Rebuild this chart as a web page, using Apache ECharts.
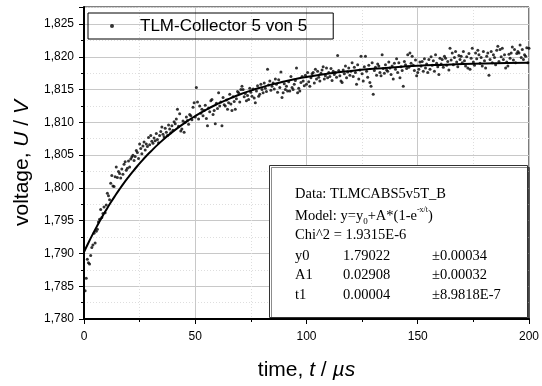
<!DOCTYPE html>
<html>
<head>
<meta charset="utf-8">
<script src="https://cdn.jsdelivr.net/npm/echarts@6/dist/echarts.min.js"></script>
<style>
  html, body { margin: 0; padding: 0; background: #fff; }
  #chart { width: 542px; height: 386px; }
</style>
</head>
<body>
<div id="chart"></div>
<script>
// Messpunkte: Zeitraster (µs) und Spannungen (V)
const t0 = 0.5;
const dt = 0.5;
const voltage = [
  1.7843, 1.7862, 1.7891, 1.7886, 1.7884, 1.7897, 1.7909, 1.7913, 1.7931, 1.7916,
  1.7934, 1.7937, 1.7948, 1.7952, 1.7967, 1.7955, 1.7961, 1.7971, 1.7962, 1.7974,
  1.7992, 1.7988, 1.7982, 1.8007, 1.8019, 1.8003, 1.8002, 1.8017, 1.8032, 1.8016,
  1.8025, 1.8022, 1.8015, 1.8029, 1.8021, 1.8036, 1.8040, 1.8027, 1.8030, 1.8041,
  1.8032, 1.8044, 1.8047, 1.8050, 1.8042, 1.8048, 1.8057, 1.8054, 1.8045, 1.8067,
  1.8060, 1.8052, 1.8064, 1.8070, 1.8058, 1.8067, 1.8063, 1.8077, 1.8066, 1.8080,
  1.8071, 1.8068, 1.8076, 1.8072, 1.8083, 1.8074, 1.8069, 1.8080, 1.8086, 1.8093,
  1.8082, 1.8078, 1.8091, 1.8085, 1.8080, 1.8096, 1.8090, 1.8084, 1.8095, 1.8088,
  1.8101, 1.8098, 1.8105, 1.8120, 1.8094, 1.8113, 1.8087, 1.8090, 1.8102, 1.8085,
  1.8100, 1.8108, 1.8103, 1.8097, 1.8112, 1.8110, 1.8104, 1.8123, 1.8130, 1.8108,
  1.8153, 1.8131, 1.8105, 1.8125, 1.8114, 1.8120, 1.8110, 1.8118, 1.8126, 1.8106,
  1.8095, 1.8122, 1.8116, 1.8133, 1.8135, 1.8112, 1.8118, 1.8098, 1.8129, 1.8121,
  1.8145, 1.8125, 1.8131, 1.8095, 1.8138, 1.8127, 1.8125, 1.8134, 1.8120, 1.8130,
  1.8143, 1.8128, 1.8118, 1.8139, 1.8132, 1.8120, 1.8136, 1.8147, 1.8145, 1.8131,
  1.8150, 1.8155, 1.8150, 1.8139, 1.8144, 1.8133, 1.8141, 1.8135, 1.8152, 1.8146,
  1.8140, 1.8151, 1.8137, 1.8130, 1.8148, 1.8156, 1.8140, 1.8143, 1.8158, 1.8150,
  1.8145, 1.8160, 1.8152, 1.8147, 1.8181, 1.8157, 1.8163, 1.8149, 1.8155, 1.8160,
  1.8151, 1.8166, 1.8158, 1.8146, 1.8165, 1.8153, 1.8177, 1.8138, 1.8145, 1.8159,
  1.8150, 1.8155, 1.8148, 1.8162, 1.8148, 1.8170, 1.8153, 1.8150, 1.8158, 1.8164,
  1.8183, 1.8145, 1.8152, 1.8148, 1.8161, 1.8170, 1.8163, 1.8156, 1.8172, 1.8158,
  1.8176, 1.8162, 1.8155, 1.8168, 1.8174, 1.8176, 1.8160, 1.8181, 1.8166, 1.8178,
  1.8169, 1.8163, 1.8175, 1.8180, 1.8185, 1.8166, 1.8171, 1.8183, 1.8168, 1.8176,
  1.8170, 1.8182, 1.8164, 1.8178, 1.8173, 1.8176, 1.8169, 1.8202, 1.8179, 1.8171,
  1.8163, 1.8161, 1.8180, 1.8174, 1.8186, 1.8168, 1.8177, 1.8183, 1.8172, 1.8178,
  1.8191, 1.8170, 1.8184, 1.8176, 1.8158, 1.8188, 1.8166, 1.8180, 1.8201, 1.8174,
  1.8163, 1.8185, 1.8201, 1.8178, 1.8169, 1.8187, 1.8161, 1.8155, 1.8191, 1.8143,
  1.8179, 1.8184, 1.8172, 1.8189, 1.8186, 1.8176, 1.8171, 1.8203, 1.8182, 1.8175,
  1.8188, 1.8180, 1.8178, 1.8192, 1.8183, 1.8173, 1.8186, 1.8166, 1.8190, 1.8181,
  1.8197, 1.8176, 1.8191, 1.8168, 1.8185, 1.8179, 1.8155, 1.8193, 1.8188, 1.8182,
  1.8203, 1.8184, 1.8206, 1.8190, 1.8201, 1.8187, 1.8179, 1.8195, 1.8171, 1.8176,
  1.8181, 1.8192, 1.8186, 1.8193, 1.8178, 1.8197, 1.8183, 1.8189, 1.8176, 1.8196,
  1.8181, 1.8200, 1.8187, 1.8194, 1.8178, 1.8203, 1.8190, 1.8185, 1.8173, 1.8198,
  1.8189, 1.8196, 1.8184, 1.8201, 1.8198, 1.8187, 1.8193, 1.8180, 1.8213, 1.8195,
  1.8206, 1.8188, 1.8199, 1.8208, 1.8192, 1.8185, 1.8202, 1.8196, 1.8201, 1.8191,
  1.8208, 1.8194, 1.8186, 1.8200, 1.8183, 1.8205, 1.8181, 1.8198, 1.8213, 1.8192,
  1.8187, 1.8206, 1.8197, 1.8210, 1.8203, 1.8190, 1.8199, 1.8186, 1.8208, 1.8194,
  1.8183, 1.8201, 1.8206, 1.8172, 1.8196, 1.8208, 1.8191, 1.8203, 1.8199, 1.8188,
  1.8210, 1.8216, 1.8193, 1.8211, 1.8200, 1.8213, 1.8196, 1.8203, 1.8183, 1.8192,
  1.8186, 1.8204, 1.8198, 1.8206, 1.8215, 1.8195, 1.8211, 1.8191, 1.8205, 1.8208,
  1.8206, 1.8218, 1.8199, 1.8211, 1.8196, 1.8203, 1.8201, 1.8214, 1.8191, 1.8213
];

// Fitkurve (ExpAssoc), Stützstellen
const fitT = [0, 2, 4, 6, 8, 10, 12, 14, 16, 18, 20, 22, 24, 26, 28, 30, 34, 38, 42, 46, 50,
  55, 60, 65, 70, 75, 80, 85, 90, 95, 100, 110, 120, 130, 140, 150, 160, 170, 180, 190, 200];
const fitV = [1.79022, 1.79164, 1.79299, 1.79427, 1.79549, 1.79665, 1.79776, 1.79881, 1.79981,
  1.80076, 1.80166, 1.80252, 1.80334, 1.80412, 1.80486, 1.80556, 1.80687, 1.80805, 1.80912,
  1.81009, 1.81097, 1.81195, 1.81281, 1.81357, 1.81425, 1.81484, 1.81536, 1.81583, 1.81624,
  1.81660, 1.81691, 1.81744, 1.81785, 1.81817, 1.81842, 1.81862, 1.81877, 1.81889, 1.81898,
  1.81905, 1.81910];

const seriesName = 'TLM-Collector 5 von 5';
const fitLines = [
  ['y0', '1.79022', '±0.00034'],
  ['A1', '0.02908', '±0.00032'],
  ['t1', '0.00004', '±8.9818E-7']
];

const points = voltage.map((v, i) => [t0 + i * dt, v]);
const fitData = fitT.map((t, i) => [t, fitV[i]]);

const sans = 'Liberation Sans';
const serif = 'Liberation Serif';

let myChart = echarts.init(document.getElementById('chart'));

// Kasten mit den Fitparametern
function boxLabel(x, y, text) {
  return { type: 'text', x: x, y: y, z: 101,
    style: { text: text, fontFamily: serif, fontSize: 14.5, fill: '#000', verticalAlign: 'middle' } };
}
const boxText = [
  boxLabel(295, 194, 'Data: TLMCABS5v5T_B'),
  { type: 'text', x: 295, y: 216, z: 101, style: {
      text: '{n|Model: y=y}{sub|0}{n|+A*(1-e}{sup|-x/t}{n|)}',
      fill: '#000', verticalAlign: 'middle',
      rich: {
        n: { fontFamily: serif, fontSize: 14.5, lineHeight: 20 },
        sub: { fontFamily: serif, fontSize: 9, lineHeight: 20, verticalAlign: 'bottom', padding: [8, 0, 0, 0] },
        sup: { fontFamily: serif, fontSize: 8, lineHeight: 20, verticalAlign: 'top', padding: [0, 0, 9, 0] }
      }
  } },
  boxLabel(295, 235, 'Chi^2 = 1.9315E-6')
];
fitLines.forEach((row, i) => {
  const y = 256 + i * 19.5;
  boxText.push(boxLabel(295, y, row[0]));
  boxText.push(boxLabel(343, y, row[1]));
  boxText.push(boxLabel(432, y, row[2]));
});

myChart.setOption({
  animation: false,
  backgroundColor: '#fff',
  grid: {
    left: 84, top: 7, width: 449, height: 315,
    show: true, borderColor: '#000', borderWidth: 1
  },
  legend: {
    data: [seriesName],
    left: 88, top: 13,
    orient: 'vertical',
    icon: 'circle',
    itemWidth: 4, itemHeight: 4,
    borderColor: '#000', borderWidth: 1,
    padding: [3, 26, 3, 22],
    textStyle: { fontFamily: sans, fontSize: 17, color: '#000', lineHeight: 20, padding: [0, 0, 0, 21] }
  },
  xAxis: {
    type: 'value',
    min: 0, max: 200, interval: 50,
    name: 'time, {i|t} / {i|µs}',
    nameLocation: 'middle',
    nameGap: 41,
    nameTextStyle: {
      fontFamily: sans, fontSize: 21, color: '#000',
      rich: { i: { fontFamily: sans, fontSize: 21, fontStyle: 'italic', color: '#000' } }
    },
    axisLine: { onZero: false, lineStyle: { color: '#000', width: 2 } },
    axisTick: { inside: false, length: 5, lineStyle: { color: '#000' } },
    minorTick: { show: true, splitNumber: 2, length: 3, lineStyle: { color: '#000' } },
    axisLabel: { fontFamily: sans, fontSize: 12, color: '#000', margin: 12 },
    splitLine: { show: true, lineStyle: { color: '#c8c8c8', width: 1 } },
    minorSplitLine: { show: true, lineStyle: { color: '#dedede', width: 1, type: [1, 2] } }
  },
  yAxis: {
    type: 'value',
    min: 1.78, max: 1.8276, interval: 0.005,
    name: 'voltage, {i|U} / {i|V}',
    nameLocation: 'middle',
    nameGap: 51,
    nameRotate: 90,
    nameTextStyle: {
      fontFamily: sans, fontSize: 21, color: '#000',
      rich: { i: { fontFamily: sans, fontSize: 21, fontStyle: 'italic', color: '#000' } }
    },
    axisLine: { onZero: false, lineStyle: { color: '#000', width: 2 } },
    axisTick: { inside: false, length: 5, lineStyle: { color: '#000' } },
    minorTick: { show: true, splitNumber: 2, length: 3, lineStyle: { color: '#000' } },
    axisLabel: {
      fontFamily: sans, fontSize: 12, color: '#000', margin: 10,
      showMaxLabel: false,
      formatter: v => v.toFixed(3).replace('.', ',')
    },
    splitLine: { show: true, lineStyle: { color: '#c8c8c8', width: 1 } },
    minorSplitLine: { show: true, lineStyle: { color: '#dedede', width: 1, type: [1, 2] } }
  },
  graphic: [
    {
      type: 'rect',
      shape: { x: 269.5, y: 165.5, width: 258, height: 152 },
      style: { fill: '#fff', stroke: '#333', lineWidth: 1, shadowColor: 'rgba(0,0,0,0.45)', shadowOffsetX: 2, shadowOffsetY: 2, shadowBlur: 0 },
      z: 100
    }
  ].concat(boxText),
  series: [
    {
      name: seriesName,
      type: 'scatter',
      data: points,
      symbol: 'circle',
      symbolSize: 3,
      itemStyle: { color: '#000' },
      z: 3
    },
    {
      name: 'fit',
      type: 'line',
      data: fitData,
      smooth: true,
      showSymbol: false,
      lineStyle: { color: '#000', width: 2 },
      z: 4
    }
  ]
});
</script>
</body>
</html>
